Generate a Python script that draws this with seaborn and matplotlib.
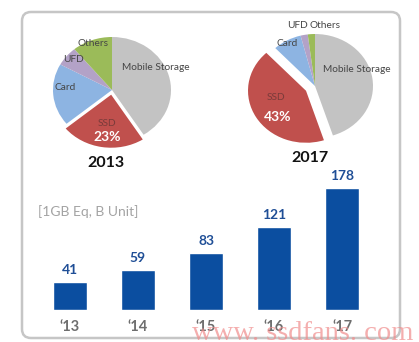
import numpy as np
import matplotlib
matplotlib.use("Agg")
import matplotlib.pyplot as plt
import seaborn as sns
from matplotlib.patches import FancyBboxPatch, Polygon

# ---- data ----
pie_labels = ["Mobile Storage", "SSD", "Card", "UFD", "Others"]
share_2013 = [41, 23, 19, 6, 11]
share_2017 = [45, 43, 8, 2, 2]
pie_colors = ["#C3C3C3", "#C0504D", "#8DB4E2", "#B3A2C7", "#9BBB59"]
years = ["‘13", "‘14", "‘15", "‘16", "‘17"]
units = [41, 59, 83, 121, 178]

sns.set_theme(style="white")
plt.rcParams['font.family'] = ['Lato', 'DejaVu Sans']

W, H = 419, 342
fig = plt.figure(figsize=(W / 100, H / 100), dpi=100)
fig.patch.set_facecolor("white")

def fx(x):
    return x / W

def fy(y):
    return 1 - y / H

# background axes in pixel coords
bg = fig.add_axes([0, 0, 1, 1], zorder=0)
bg.set_xlim(0, W)
bg.set_ylim(H, 0)
bg.axis("off")
frame = FancyBboxPatch((22, 12), 378, 326, boxstyle="round,pad=0,rounding_size=9",
                       facecolor="white", edgecolor="#C6C6C6", linewidth=1.8)
bg.add_patch(frame)

# gradient arrow
arrow_pts = [(193, 86), (222, 86), (222, 79), (244, 94), (222, 109), (222, 102), (193, 102)]
poly = Polygon(arrow_pts, closed=True, facecolor="none", edgecolor="none")
bg.add_patch(poly)
grad = np.linspace(1.0, 0.45, 200)[None, :]
im = bg.imshow(np.repeat(grad, 10, axis=0), cmap="gray", vmin=0, vmax=1,
               extent=[193, 244, 110, 78], aspect="auto", interpolation="bilinear")
im.set_clip_path(poly)

# shadow under bars
ys = np.linspace(0, 1, 30)[:, None]
xs = np.linspace(0, 1, 200)[None, :]
alpha = (1 - ys) ** 1.5 * 0.35 * np.clip(np.minimum(xs, 1 - xs) * 8, 0, 1)
rgba = np.zeros((30, 200, 4))
rgba[..., :3] = 0.55
rgba[..., 3] = alpha
bg.imshow(rgba, extent=[40, 372, 322, 308], aspect="auto", interpolation="bilinear")

# pies (slightly wider than tall, as in the reference)
HALF = 78

def pie_axes(cx, cy):
    return fig.add_axes([fx(cx - HALF), fy(cy + HALF), 2 * HALF / W, 2 * HALF / H], zorder=2)

def finish_pie(ax, rx, ry):
    ax.set_aspect("auto")
    ax.set_xlim(-HALF / rx, HALF / rx)
    ax.set_ylim(-HALF / ry, HALF / ry)
    ax.axis("off")
    ax.patch.set_alpha(0)

ax1 = pie_axes(112, 90)
ax1.pie(share_2013, colors=pie_colors, startangle=90, counterclock=False,
        explode=[0, 0.09, 0, 0, 0], wedgeprops=dict(linewidth=0))
finish_pie(ax1, 59, 53)
ax2 = pie_axes(315, 86)
ax2.pie(share_2017, colors=pie_colors, startangle=90, counterclock=False,
        explode=[0, 0.18, 0, 0, 0], wedgeprops=dict(linewidth=0))
finish_pie(ax2, 58, 52)

lab_c = "#454545"
def ptext(x, y, s, **kw):
    fig.text(fx(x), fy(y), s, ha="center", va="center", zorder=5, **kw)

ptext(156, 67, pie_labels[0], fontsize=7.3, color=lab_c)
ptext(93, 43, pie_labels[4], fontsize=7.3, color=lab_c)
ptext(73, 59, pie_labels[3], fontsize=7.3, color=lab_c)
ptext(65, 88, pie_labels[2], fontsize=7.3, color=lab_c)
ptext(107, 123, pie_labels[1], fontsize=7.3, color="#7A3B3A")
ptext(107, 137, f"{share_2013[1]}%", fontsize=10, color="white", fontweight="bold")
ptext(106, 163, "2013", fontsize=11.5, color="#111111", fontweight="bold")

ptext(357, 69, pie_labels[0], fontsize=7.3, color=lab_c)
ptext(297, 26, pie_labels[3], fontsize=7.3, color=lab_c)
ptext(325, 25, pie_labels[4], fontsize=7.3, color=lab_c)
ptext(287, 43, pie_labels[2], fontsize=7.3, color=lab_c)
ptext(276, 98, pie_labels[1], fontsize=7.3, color="#7A3B3A")
ptext(278, 117, f"{share_2017[1]}%", fontsize=10, color="white", fontweight="bold")
ptext(310, 158, "2017", fontsize=11.5, color="#111111", fontweight="bold")

# bar chart
axb = fig.add_axes([fx(36), fy(310), 340 / W, 140 / H], zorder=3)
axb.patch.set_alpha(0)
sns.barplot(x=years, y=units, color="#0B4EA0", saturation=1, width=0.49, ax=axb)
axb.set_xlim(-0.5, 4.5)
axb.set_ylim(0, 204)
for s in axb.spines.values():
    s.set_visible(False)
axb.set_yticks([])
axb.tick_params(axis="x", length=0, pad=7, labelsize=10.5, labelcolor="#6E6E6E")
for t in axb.get_xticklabels():
    t.set_fontweight("bold")
for i, v in enumerate(units):
    axb.annotate(str(v), (i, v), xytext=(0, 4), textcoords="offset points",
                 ha="center", va="bottom", fontsize=10, fontweight="bold", color="#1F4E96")

fig.text(fx(38), fy(212), "[1GB Eq, B Unit]", ha="left", va="center",
         fontsize=10, color="#A3A3A3", zorder=5)

# watermark
fig.text(fx(192), fy(333), "www. ssdfans. com", ha="left", va="center",
         fontsize=20.5, color="#F08C8C", alpha=0.7, family="Liberation Serif", zorder=6)

fig.savefig("out.png", dpi=100, facecolor="white")
